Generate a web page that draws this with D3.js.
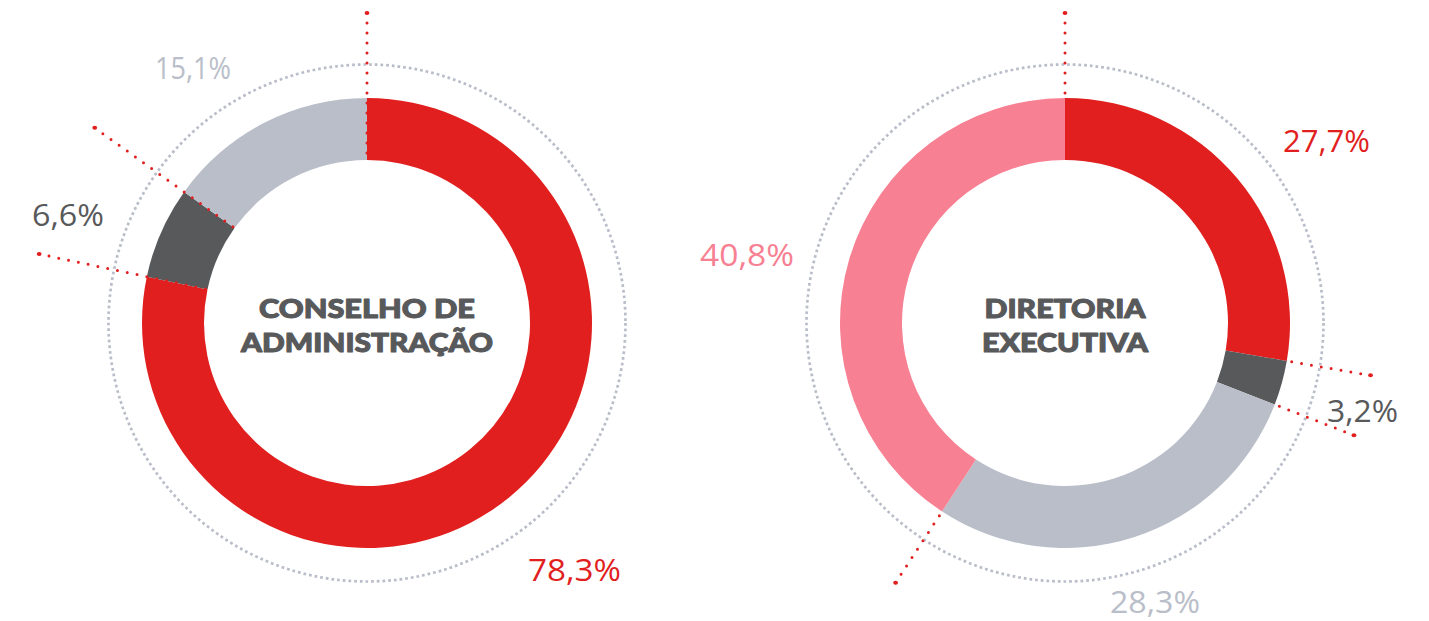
<!DOCTYPE html>
<html>
<head>
<meta charset="utf-8">
<script src="https://cdn.jsdelivr.net/npm/d3@7"></script>
<style>
  html, body { margin: 0; padding: 0; background: #ffffff; }
  svg { display: block; }
</style>
</head>
<body>
<svg id="chart" width="1429" height="621"></svg>
<script>
// ---- data ----
const chartTitles = [["CONSELHO DE", "ADMINISTRAÇÃO"], ["DIRETORIA", "EXECUTIVA"]];
const boardCategories = ["Categoria A", "Categoria B", "Categoria C"];
const boardValues = [78.3, 6.6, 15.1];
const boardLabels = ["78,3%", "6,6%", "15,1%"];
const execCategories = ["Categoria A", "Categoria B", "Categoria C", "Categoria D"];
const execValues = [27.7, 3.2, 28.3, 40.8];
const execLabels = ["27,7%", "3,2%", "28,3%", "40,8%"];

// ---- styling / layout ----
const sliceColors = ["#e11f1f", "#58595b", "#b9bec9", "#f88093"];
const labelColors = ["#e11f1f", "#58595b", "#b9bec9", "#f88093"];
const RED = "#e11f1f";
const charts = [
  { cx: 367, cy: 323, values: boardValues, labels: boardLabels, title: chartTitles[0],
    titleWidths: [216, 252],
    lineStart: 163, lineEnds: [310, 335, 335],
    labelPos: [[161, 258, 93], [-335, -97, 72], [-212, -244, 76]] },
  { cx: 1065, cy: 323, values: execValues, labels: execLabels, title: chartTitles[1],
    titleWidths: [161, 166],
    lineStart: 225, lineEnds: [310, 310, 310, 310],
    labelPos: [[218, -171, 87], [262, 99, 71], [45, 290, 90], [-365, -57, 94]] }
];
const innerR = 163, outerR = 225, ringR = 258.5;

const svg = d3.select("#chart");
const pie = d3.pie().sort(null).value(d => d).startAngle(0).endAngle(2 * Math.PI);
const arc = d3.arc().innerRadius(innerR).outerRadius(outerR);

charts.forEach(c => {
  const g = svg.append("g").attr("transform", `translate(${c.cx},${c.cy})`);

  // dotted outer ring
  g.append("circle")
    .attr("r", ringR)
    .attr("fill", "none")
    .attr("stroke", "#b9bdc9")
    .attr("stroke-width", 2.7)
    .attr("stroke-dasharray", "2.7 3");

  const arcs = pie(c.values);
  g.selectAll("path.slice")
    .data(arcs)
    .join("path")
    .attr("class", "slice")
    .attr("d", arc)
    .attr("fill", (d, i) => sliceColors[i]);

  // red dotted separators at each slice start
  const pt = (a, r) => [r * Math.sin(a), -r * Math.cos(a)];
  arcs.forEach((d, i) => {
    const a = d.startAngle;
    const p0 = pt(a, c.lineStart), p1 = pt(a, c.lineEnds[i]);
    g.append("line")
      .attr("x1", p1[0]).attr("y1", p1[1])
      .attr("x2", p0[0]).attr("y2", p0[1])
      .attr("stroke", RED)
      .attr("stroke-width", 3)
      .attr("stroke-linecap", "round")
      .attr("stroke-dasharray", "0 10");
    g.append("ellipse")
      .attr("cx", p1[0]).attr("cy", p1[1])
      .attr("rx", 2.4).attr("ry", 2)
      .attr("fill", RED);
  });

  // percentage labels
  c.labels.forEach((t, i) => {
    const lp = c.labelPos[i];
    g.append("text")
      .attr("x", lp[0]).attr("y", lp[1])
      .attr("fill", labelColors[i])
      .attr("font-family", "'Open Sans', Roboto, sans-serif")
      .attr("font-size", 31)
      .attr("font-weight", 400)
      .attr("textLength", lp[2])
      .attr("lengthAdjust", "spacingAndGlyphs")
      .text(t);
  });

  // center title
  const baselines = [-5.5, 29];
  c.title.forEach((t, i) => {
    g.append("text")
      .attr("x", 0).attr("y", baselines[i])
      .attr("text-anchor", "middle")
      .attr("fill", "#58595b")
      .attr("stroke", "#58595b")
      .attr("stroke-width", 1.1)
      .attr("stroke-linejoin", "round")
      .attr("font-family", "Lato, 'DejaVu Sans', sans-serif")
      .attr("font-size", 27)
      .attr("font-weight", 900)
      .attr("textLength", c.titleWidths[i])
      .attr("lengthAdjust", "spacingAndGlyphs")
      .text(t);
  });
});
</script>
</body>
</html>
